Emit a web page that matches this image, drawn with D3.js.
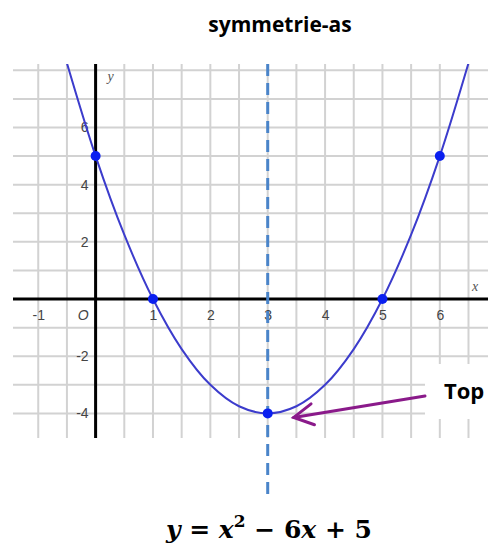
<!DOCTYPE html>
<html>
<head>
<meta charset="utf-8">
<script src="https://cdn.jsdelivr.net/npm/d3@7"></script>
<style>
  body { margin: 0; background: #fff; }
  svg { display: block; }
</style>
</head>
<body>
<div id="chart"></div>
<script>
// data
const xTicks = [-1, 0, 1, 2, 3, 4, 5, 6];
const xTickLabels = ["-1", "O", "1", "2", "3", "4", "5", "6"];
const yTicks = [-4, -2, 2, 4, 6];
const yTickLabels = ["-4", "-2", "2", "4", "6"];
const curveX = [-0.5, 0, 0.5, 1, 1.5, 2, 2.5, 3, 3.5, 4, 4.5, 5, 5.5, 6, 6.5];
const curveY = [8.25, 5, 2.25, 0, -1.75, -3, -3.75, -4, -3.75, -3, -1.75, 0, 2.25, 5, 8.25];
const markX = [0, 1, 3, 5, 6];
const markY = [5, 0, -4, 0, 5];
const axisOfSymmetry = 3;
const topPoint = [3, -4];

const W = 495, H = 544;
const svg = d3.select("#chart").append("svg").attr("width", W).attr("height", H);

const x = d3.scaleLinear().domain([-1.44, 6.84]).range([13, 488]);
const y = d3.scaleLinear().domain([-4.86, 8.22]).range([438, 64]);

// title
svg.append("text")
    .attr("x", 280).attr("y", 32)
    .attr("text-anchor", "middle")
    .style("font-family", "'Open Sans', sans-serif")
    .style("font-weight", "bold")
    .style("font-size", "21px")
    .text("symmetrie-as");

// grid
const grid = svg.append("g");
grid.selectAll("line.v").data(d3.range(-1, 6.51, 0.5)).enter().append("line")
    .attr("x1", d => x(d)).attr("x2", d => x(d))
    .attr("y1", y.range()[1]).attr("y2", y.range()[0])
    .style("stroke", "#d2d2d2").style("stroke-width", 2);
grid.selectAll("line.h").data(d3.range(-4, 8.01, 1)).enter().append("line")
    .attr("x1", x.range()[0]).attr("x2", x.range()[1])
    .attr("y1", d => y(d)).attr("y2", d => y(d))
    .style("stroke", "#d2d2d2").style("stroke-width", 2);

// axes lines
svg.append("line")
    .attr("x1", x.range()[0]).attr("x2", x.range()[1])
    .attr("y1", y(0)).attr("y2", y(0))
    .style("stroke", "#000").style("stroke-width", 3);
svg.append("line")
    .attr("x1", x(0)).attr("x2", x(0))
    .attr("y1", y.range()[1]).attr("y2", y.range()[0])
    .style("stroke", "#000").style("stroke-width", 3);

// tick labels via d3 axes
const axisX = d3.axisBottom(x).tickValues(xTicks).tickSize(0).tickPadding(0)
    .tickFormat((d, i) => xTickLabels[i]);
const gx = svg.append("g").attr("transform", `translate(0, ${y(0) + 11})`).call(axisX);
gx.select(".domain").remove();
gx.selectAll("text")
    .style("font-family", "'Liberation Sans', Arial, sans-serif")
    .style("font-size", "14px")
    .style("fill", "#444")
    .attr("dx", d => d === 0 ? -13 : 0)
    .style("font-style", d => d === 0 ? "italic" : "normal");

const axisY = d3.axisLeft(y).tickValues(yTicks).tickSize(0).tickPadding(0)
    .tickFormat((d, i) => yTickLabels[i]);
const gy = svg.append("g").attr("transform", `translate(${x(0) - 7}, 0)`).call(axisY);
gy.select(".domain").remove();
gy.selectAll("text")
    .style("font-family", "'Liberation Sans', Arial, sans-serif")
    .style("font-size", "14px")
    .style("fill", "#444");

// axis names
svg.append("text").attr("x", x(0) + 12).attr("y", 81)
    .style("font-family", "'Liberation Serif', serif").style("font-style", "italic")
    .style("font-size", "14px").style("fill", "#555").text("y");
svg.append("text").attr("x", 472).attr("y", 291)
    .style("font-family", "'Liberation Serif', serif").style("font-style", "italic")
    .style("font-size", "14px").style("fill", "#555").text("x");

// clip for curve
svg.append("clipPath").attr("id", "plot").append("rect")
    .attr("x", x.range()[0]).attr("y", y.range()[1])
    .attr("width", x.range()[1] - x.range()[0]).attr("height", y.range()[0] - y.range()[1]);

// white box behind "Top"
svg.append("rect").attr("x", 425).attr("y", 364).attr("width", 70).attr("height", 55).style("fill", "#fff");

// symmetry axis
svg.append("line")
    .attr("x1", x(axisOfSymmetry)).attr("x2", x(axisOfSymmetry))
    .attr("y1", 64).attr("y2", 498)
    .style("stroke", "#4a84c9").style("stroke-width", 3)
    .style("stroke-dasharray", "12 7");

// parabola
const pts = curveX.map((d, i) => [d, curveY[i]]);
svg.append("path").datum(pts)
    .attr("clip-path", "url(#plot)")
    .attr("d", d3.line().x(d => x(d[0])).y(d => y(d[1])).curve(d3.curveCatmullRom.alpha(0.5)))
    .style("fill", "none").style("stroke", "#3c3ccc").style("stroke-width", 2);

// marked points
svg.selectAll("circle.m").data(markX.map((d, i) => [d, markY[i]])).enter().append("circle")
    .attr("cx", d => x(d[0])).attr("cy", d => y(d[1])).attr("r", 5)
    .style("fill", "#0a1ff0");

// arrow to top
const tipX = x(topPoint[0]) + 26, tipY = y(topPoint[1]) + 4;
const tailX = 425, tailY = 396;
const ang = Math.atan2(tailY - tipY, tailX - tipX);
const headLen = 22, spread = 0.5;
const arrow = svg.append("g").style("stroke", "#8a1a8a").style("stroke-width", 3)
    .style("fill", "none").style("stroke-linecap", "round");
arrow.append("line").attr("x1", tailX).attr("y1", tailY).attr("x2", tipX).attr("y2", tipY);
arrow.append("path").attr("d",
    `M${tipX + headLen * Math.cos(ang - spread)},${tipY + headLen * Math.sin(ang - spread)}` +
    `L${tipX},${tipY}` +
    `L${tipX + headLen * Math.cos(ang + spread)},${tipY + headLen * Math.sin(ang + spread)}`);

svg.append("text").attr("x", 444).attr("y", 399)
    .style("font-family", "'Open Sans', sans-serif").style("font-weight", "bold")
    .style("font-size", "22px").text("Top");

// formula
const f = svg.append("text").attr("x", 269).attr("y", 538).attr("text-anchor", "middle")
    .style("font-family", "'DejaVu Serif', serif").style("font-weight", "bold")
    .style("font-size", "25px");
f.append("tspan").style("font-style", "italic").text("y");
f.append("tspan").text(" = ");
f.append("tspan").style("font-style", "italic").text("x");
f.append("tspan").attr("dy", -11).style("font-size", "17px").text("2");
f.append("tspan").attr("dy", 11).text(" − 6");
f.append("tspan").style("font-style", "italic").text("x");
f.append("tspan").text(" + 5");
</script>
</body>
</html>
